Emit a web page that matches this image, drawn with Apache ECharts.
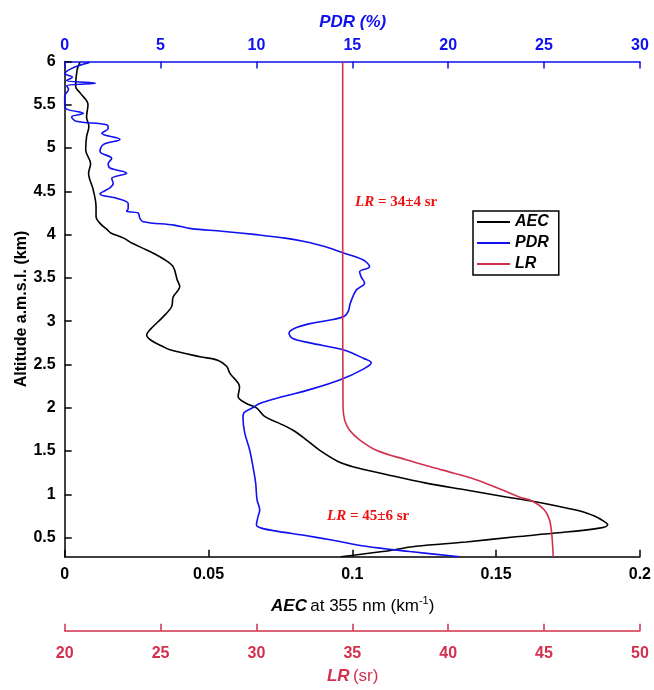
<!DOCTYPE html>
<html><head><meta charset="utf-8">
<script src="https://cdn.jsdelivr.net/npm/echarts@6/dist/echarts.min.js"></script>
<style>html,body{margin:0;padding:0;background:#fff}#c{width:654px;height:690px}</style>
</head><body><div id="c"></div>
<script>
// Altitude (km) and AEC (km^-1)
const aecAlt = [5.99,5.90,5.71,5.64,5.50,5.36,5.25,5.13,4.98,4.82,4.71,4.52,4.32,4.21,4.13,4.05,4.02,3.96,3.90,3.82,3.71,3.63,3.48,3.40,3.28,3.17,3.05,2.90,2.84,2.78,2.71,2.67,2.59,2.55,2.48,2.40,2.24,2.13,2.05,2.00,1.90,1.82,1.74,1.63,1.51,1.38,1.32,1.23,1.13,1.05,0.97,0.92,0.86,0.80,0.75,0.71,0.65,0.61,0.55,0.51,0.45,0.40,0.34,0.28];
const aecVal = [0.0053,0.0043,0.0038,0.0053,0.0081,0.0076,0.0084,0.0076,0.0073,0.0090,0.0083,0.0099,0.0109,0.0109,0.0123,0.0150,0.0160,0.0205,0.0235,0.0287,0.0348,0.0377,0.0391,0.0400,0.0377,0.0372,0.0342,0.0296,0.0285,0.0300,0.0340,0.0366,0.0470,0.0532,0.0563,0.0574,0.0608,0.0603,0.0632,0.0667,0.0695,0.0747,0.0794,0.0840,0.0886,0.0950,0.1002,0.1118,0.1257,0.1396,0.1535,0.1627,0.1720,0.1801,0.1842,0.1865,0.1888,0.1859,0.1697,0.1569,0.1396,0.1222,0.1106,0.0960];
// Altitude (km) and PDR (%)
const pdrAlt = [5.99,5.95,5.90,5.86,5.82,5.78,5.75,5.72,5.68,5.60,5.50,5.45,5.40,5.36,5.31,5.27,5.23,5.17,5.10,5.04,4.96,4.88,4.82,4.77,4.71,4.65,4.59,4.54,4.47,4.42,4.36,4.30,4.27,4.25,4.19,4.15,4.11,4.07,4.04,4.00,3.96,3.92,3.86,3.79,3.71,3.63,3.57,3.51,3.44,3.36,3.21,3.12,3.06,3.02,2.98,2.92,2.86,2.80,2.75,2.67,2.57,2.52,2.45,2.32,2.21,2.13,2.05,2.00,1.94,1.88,1.71,1.51,1.32,1.13,0.94,0.82,0.74,0.65,0.61,0.57,0.53,0.47,0.40,0.34,0.28];
const pdrVal = [1.3,0.7,0.2,0.0,0.4,0.1,1.6,0.1,0.2,0.0,0.0,0.1,0.97,0.36,0.6,2.19,2.27,1.93,2.88,2.01,1.84,2.45,2.27,2.36,3.23,2.45,2.53,2.36,1.84,2.71,3.31,3.31,3.23,3.83,3.92,4.09,5.7,6.6,8.2,10.0,11.5,12.5,13.6,14.5,15.55,15.9,15.38,15.47,15.64,15.21,14.9,14.8,14.6,14.0,12.95,12.0,11.7,11.9,12.78,14.51,15.6,15.99,15.6,14.34,12.78,11.39,10.17,9.8,9.34,9.30,9.39,9.65,9.82,9.96,10.03,10.17,10.08,10.0,10.26,11.2,12.4,14.0,15.7,18.0,20.6];
// Altitude (km) and LR (sr)
const lrAlt = [6.0,5.0,4.0,3.0,2.4,2.0,1.86,1.74,1.63,1.51,1.40,1.28,1.17,1.05,0.97,0.92,0.82,0.71,0.55,0.28];
const lrVal = [34.5,34.5,34.5,34.5,34.51,34.52,34.6,34.86,35.38,36.25,37.81,39.72,41.46,42.84,43.71,44.41,45.02,45.28,45.40,45.48];
// Tick labels
const aecTicks = [0,0.05,0.1,0.15,0.2];
const pdrTicks = [0,5,10,15,20,25,30];
const lrTicks = [20,25,30,35,40,45,50];
const altTicks = [0.5,1,1.5,2,2.5,3,3.5,4,4.5,5,5.5,6];

const F = '"Liberation Sans", Arial, sans-serif';
const SERIF = '"Liberation Serif", "Times New Roman", serif';
const BLUE = '#1010f0', RED = '#d2304e', TXTRED = '#ee1111';

function pairs(xs, ys){ return xs.map((x,i)=>[x, ys[i]]); }
const LINE_ICON = 'path://M0,0 L33,0 L33,2 L0,2 Z';

const chart = echarts.init(document.getElementById('c'));
chart.setOption({
  animation:false,
  backgroundColor:'#fff',
  grid:{left:64.7, right:13.3, top:61.5, bottom:133.3},
  xAxis:[
    {type:'value', position:'bottom', min:aecTicks[0], max:aecTicks[aecTicks.length-1], interval:0.05,
     axisLine:{show:true, onZero:false, lineStyle:{color:'#000', width:1.5}},
     axisTick:{show:true, inside:true, length:7, lineStyle:{color:'#000', width:1.5}},
     axisLabel:{color:'#000', fontFamily:F, fontWeight:'bold', fontSize:16, margin:10},
     splitLine:{show:false}},
    {type:'value', position:'top', min:pdrTicks[0], max:pdrTicks[pdrTicks.length-1], interval:5,
     axisLine:{show:true, onZero:false, lineStyle:{color:BLUE, width:1.5}},
     axisTick:{show:true, inside:true, length:7, lineStyle:{color:BLUE, width:1.5}},
     axisLabel:{color:BLUE, fontFamily:F, fontWeight:'bold', fontSize:16, margin:8},
     splitLine:{show:false}},
    {type:'value', position:'bottom', offset:74, min:lrTicks[0], max:lrTicks[lrTicks.length-1], interval:5,
     axisLine:{show:true, onZero:false, lineStyle:{color:RED, width:1.5}},
     axisTick:{show:true, inside:true, length:7, lineStyle:{color:RED, width:1.5}},
     axisLabel:{color:RED, fontFamily:F, fontWeight:'bold', fontSize:16, margin:15},
     splitLine:{show:false}}
  ],
  yAxis:[{type:'value', min:0.28, max:6,
    axisLine:{show:true, onZero:false, lineStyle:{color:'#000', width:1.5}},
    axisTick:{show:true, inside:true, length:7, customValues:altTicks, lineStyle:{color:'#000', width:1.5}},
    axisLabel:{color:'#000', fontFamily:F, fontWeight:'bold', fontSize:16, margin:9, customValues:altTicks},
    splitLine:{show:false}}],
  legend:{orient:'vertical', left:473, top:211, itemWidth:33, itemHeight:2, itemGap:5,
    padding:[3,10,3,4], borderColor:'#000', borderWidth:1.5, backgroundColor:'#fff',
    textStyle:{fontFamily:F, fontWeight:'bold', fontStyle:'italic', fontSize:16, color:'#000', lineHeight:16},
    data:[{name:'AEC', icon:LINE_ICON},{name:'PDR', icon:LINE_ICON},{name:'LR', icon:LINE_ICON}]},
  series:[
    {name:'AEC', type:'line', xAxisIndex:0, yAxisIndex:0, data:pairs(aecVal, aecAlt), symbol:'none', smooth:0.35, lineStyle:{color:'#000', width:1.6}, itemStyle:{color:'#000'}},
    {name:'PDR', type:'line', xAxisIndex:1, yAxisIndex:0, data:pairs(pdrVal, pdrAlt), symbol:'none', smooth:0.35, lineStyle:{color:BLUE, width:1.6}, itemStyle:{color:BLUE}},
    {name:'LR', type:'line', xAxisIndex:2, yAxisIndex:0, data:pairs(lrVal, lrAlt), symbol:'none', smooth:0.35, lineStyle:{color:RED, width:1.6}, itemStyle:{color:RED}}
  ],
  graphic:[
    {type:'text', x:352.7, y:22, style:{text:'PDR (%)', fill:BLUE, font:'italic bold 17px '+F, textAlign:'center', textVerticalAlign:'middle'}},
    {type:'text', x:352.7, y:606, style:{text:'{b|AEC} {n|at 355 nm (km}{s|-1}{n|)}', textAlign:'center', textVerticalAlign:'middle',
      rich:{b:{fontFamily:F, fontWeight:'bold', fontStyle:'italic', fontSize:17, fill:'#000'},
            n:{fontFamily:F, fontSize:17, fill:'#000'},
            s:{fontFamily:F, fontSize:11, fill:'#000', padding:[0,0,10,0]}}}},
    {type:'text', x:352.7, y:676, style:{text:'{b|LR} {n|(sr)}', textAlign:'center', textVerticalAlign:'middle',
      rich:{b:{fontFamily:F, fontWeight:'bold', fontStyle:'italic', fontSize:17, fill:RED},
            n:{fontFamily:F, fontSize:17, fill:RED}}}},
    {type:'text', x:22, y:309, rotation:Math.PI/2, style:{text:'Altitude a.m.s.l. (km)', fill:'#000', font:'bold 16px '+F, textAlign:'center', textVerticalAlign:'middle'}},
    {type:'text', x:355, y:202, style:{text:'{i|LR}{n| = 34±4 sr}', textVerticalAlign:'middle',
      rich:{i:{fontFamily:SERIF, fontWeight:'bold', fontStyle:'italic', fontSize:15, fill:TXTRED},
            n:{fontFamily:SERIF, fontWeight:'bold', fontSize:15, fill:TXTRED}}}},
    {type:'text', x:327, y:516, style:{text:'{i|LR}{n| = 45±6 sr}', textVerticalAlign:'middle',
      rich:{i:{fontFamily:SERIF, fontWeight:'bold', fontStyle:'italic', fontSize:15, fill:TXTRED},
            n:{fontFamily:SERIF, fontWeight:'bold', fontSize:15, fill:TXTRED}}}}
  ]
});
</script></body></html>
